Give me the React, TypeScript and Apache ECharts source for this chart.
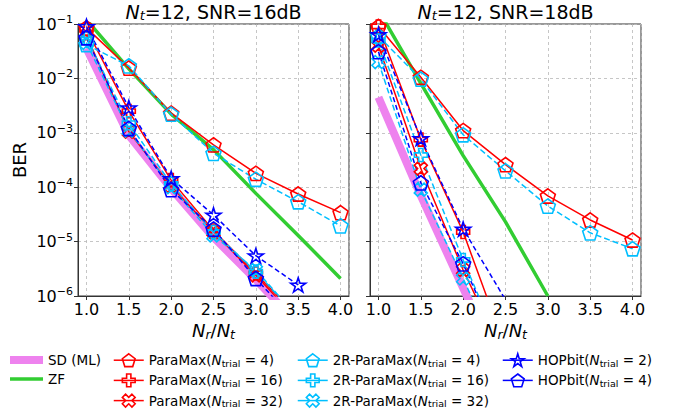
import { useEffect, useRef } from 'react';
import * as echarts from 'echarts';

const xValues = [1.0, 1.5, 2.0, 2.5, 3.0, 3.5, 4.0];
const panelSNR = ['16dB', '18dB'];

// ---- Panel 1: Nt=12, SNR=16dB ----
const sdML16 = [0.036, 9e-4, 9.5e-5, 1.2e-5, 2.0e-6, 3e-7];
const zf16 = [0.12, 1.5e-2, 2.2e-3, 4.9e-4, 7.7e-5, 1.3e-5, 2.1e-6];
const pm4_16 = [0.085, 1.55e-2, 2.3e-3, 6e-4, 1.8e-4, 7.5e-5, 3.4e-5];
const pm16_16 = [0.08, 2.5e-3, 1.35e-4, 1.6e-5, 2.6e-6, 4e-7];
const pm32_16 = [0.062, 1.05e-3, 1.05e-4, 1.5e-5, 2.4e-6, 3.5e-7];
const r4_16 = [0.042, 1.7e-2, 2.2e-3, 4.2e-4, 1.4e-4, 5.4e-5, 1.95e-5];
const r16_16 = [0.055, 1.5e-3, 1.15e-4, 1.5e-5, 2.8e-6, 4e-7];
const r32_16 = [0.045, 1.1e-3, 1.0e-4, 1.3e-5, 3e-6, 4e-7];
const hop2_16 = [0.09, 2.9e-3, 1.45e-4, 3.1e-5, 5.5e-6, 1.6e-6];
const hop4_16 = [0.056, 1.2e-3, 9e-5, 1.7e-5, 2.1e-6, 3e-7];

// ---- Panel 2: Nt=12, SNR=18dB ----
const sdML18 = [4.5e-3, 7e-5, 1.4e-6, 3e-8];
const zf18 = [0.18, 8.1e-3, 3.8e-4, 2.3e-5, 1e-6];
const pm4_18 = [0.09, 1.05e-2, 1.1e-3, 2.6e-4, 6.9e-5, 2.5e-5, 1.07e-5];
const pm16_18 = [0.09, 7.5e-4, 1.5e-5, 1.1e-7];
const pm32_18 = [0.04, 2.2e-4, 3e-6, 7e-8];
const r4_18 = [0.06, 9.7e-3, 9.2e-4, 2.0e-4, 4.5e-5, 1.45e-5, 7.4e-6];
const r16_18 = [0.05, 3.9e-4, 4.6e-6, 7e-8];
const r32_18 = [0.02, 9e-5, 2.1e-6, 4e-8];
const hop2_18 = [0.064, 7.9e-4, 1.7e-5, 8.5e-7];
const hop4_18 = [0.031, 1.2e-4, 3.9e-6, 7e-8];

const FONT = 'DejaVu Sans';

const SYM_PENT = 'path://M0,-10L9.51,-3.09L5.88,8.09L-5.88,8.09L-9.51,-3.09Z';
const SYM_PLUS = 'path://M-1,-3L1,-3L1,-1L3,-1L3,1L1,1L1,3L-1,3L-1,1L-3,1L-3,-1L-1,-1Z';
const SYM_X = 'path://M2,-4L4,-2L2,0L4,2L2,4L0,2L-2,4L-4,2L-2,0L-4,-2L-2,-4L0,-2Z';
const SYM_STAR = 'path://M0,-10L2.245,-3.09L9.51,-3.09L3.633,1.18L5.88,8.09L0,3.82L-5.88,8.09L-3.633,1.18L-9.51,-3.09L-2.245,-3.09Z';

const VIOLET = '#ee82ee';
const GREEN = '#32cd32';
const RED = '#ff0000';
const CYAN = '#00bfff';
const BLUE = '#0000ff';

const defs = [
  { name: 'SD (ML)', color: VIOLET, width: 8, dash: 'solid' as any, symbol: 'none', size: 0, d: [sdML16, sdML18] },
  { name: 'ZF', color: GREEN, width: 3.5, dash: 'solid' as any, symbol: 'none', size: 0, d: [zf16, zf18] },
  { name: 'ParaMax(N_trial = 4)', color: RED, width: 1.5, dash: 'solid' as any, symbol: SYM_PENT, size: 15, d: [pm4_16, pm4_18] },
  { name: 'ParaMax(N_trial = 16)', color: RED, width: 1.5, dash: 'solid' as any, symbol: SYM_PLUS, size: 13, d: [pm16_16, pm16_18] },
  { name: 'ParaMax(N_trial = 32)', color: RED, width: 1.5, dash: 'solid' as any, symbol: SYM_X, size: 13, d: [pm32_16, pm32_18] },
  { name: '2R-ParaMax(N_trial = 4)', color: CYAN, width: 1.5, dash: [6, 3] as any, symbol: SYM_PENT, size: 15, d: [r4_16, r4_18] },
  { name: '2R-ParaMax(N_trial = 16)', color: CYAN, width: 1.5, dash: [6, 3] as any, symbol: SYM_PLUS, size: 13, d: [r16_16, r16_18] },
  { name: '2R-ParaMax(N_trial = 32)', color: CYAN, width: 1.5, dash: [6, 3] as any, symbol: SYM_X, size: 13, d: [r32_16, r32_18] },
  { name: 'HOPbit(N_trial = 2)', color: BLUE, width: 1.5, dash: [5, 3] as any, symbol: SYM_STAR, size: 15, d: [hop2_16, hop2_18] },
  { name: 'HOPbit(N_trial = 4)', color: BLUE, width: 1.5, dash: [5, 3] as any, symbol: SYM_PENT, size: 15, d: [hop4_16, hop4_18] },
];

const legendCols = [
  { left: 6, names: ['SD (ML)', 'ZF'], w: 33 },
  { left: 113, names: defs.slice(2, 5).map((d) => d.name), w: 30 },
  { left: 297, names: defs.slice(5, 8).map((d) => d.name), w: 30 },
  { left: 502, names: defs.slice(8, 10).map((d) => d.name), w: 30 },
];

const legendRich = {
  n: { fontSize: 13.5, fontFamily: FONT, color: '#000' },
  i: { fontSize: 13.5, fontFamily: FONT, fontStyle: 'italic', color: '#000' },
  s: { fontSize: 9.5, fontFamily: FONT, color: '#000', padding: [6, 0, 0, 0] },
};

function legendFmt(name: string) {
  if (name.indexOf('N_trial') < 0) return '{n|' + name + '}';
  const [a, b] = name.split('N_trial');
  return '{n|' + a + '}{i|N}{s|trial}{n|' + b + '}';
}

const tickRich = {
  b: { fontSize: 16, fontFamily: FONT, color: '#000' },
  e: { fontSize: 11, fontFamily: FONT, color: '#000', padding: [0, 0, 9, 0] },
};

const gridLefts = [78, 370];
const GRID_W = 271;
const GRID_TOP = 24;
const GRID_H = 272;

export default function App() {
  const ref = useRef<HTMLDivElement>(null);
  useEffect(() => {
    if (!ref.current) return;
    const chart = echarts.init(ref.current, undefined, { renderer: 'svg' });

    const series: any[] = [];
    defs.forEach((d) => {
      d.d.forEach((arr, p) => {
        series.push({
          type: 'line',
          name: d.name,
          xAxisIndex: p,
          yAxisIndex: p,
          data: arr.map((v, i) => [xValues[i], v]),
          symbol: d.symbol,
          symbolSize: d.size,
          symbolKeepAspect: true,
          showSymbol: d.symbol !== 'none',
          clip: true,
          silent: true,
          lineStyle: { color: d.color, width: d.width, type: d.dash },
          itemStyle: { color: 'rgba(255,255,255,0)', borderColor: d.color, borderWidth: 1.6 },
          emphasis: { disabled: true },
        });
      });
    });

    const axisLineStyle = { color: '#333', width: 1 };
    const splitLine = { show: true, lineStyle: { color: '#b8b8b8', type: [3, 3] as any, width: 0.8 } };

    const xAxis = [0, 1].map((p) => ({
      type: 'value',
      gridIndex: p,
      min: 0.9,
      max: 4.1,
      splitNumber: 6,
      name: '{i|N}{s|r}{n|/}{i|N}{s|t}',
      nameLocation: 'middle',
      nameGap: 24,
      nameTextStyle: {
        rich: {
          i: { fontSize: 18, fontFamily: FONT, fontStyle: 'italic', color: '#000' },
          n: { fontSize: 18, fontFamily: FONT, color: '#000' },
          s: { fontSize: 12.5, fontFamily: FONT, fontStyle: 'italic', color: '#000', padding: [7, 0, 0, 0] },
        },
      },
      axisLine: { show: true, onZero: false, lineStyle: axisLineStyle },
      axisTick: { show: true, length: 4, lineStyle: axisLineStyle },
      axisLabel: {
        showMinLabel: false,
        showMaxLabel: false,
        margin: 5,
        fontSize: 16,
        fontFamily: FONT,
        color: '#000',
        formatter: (v: number) => v.toFixed(1),
      },
      splitLine,
    }));

    const yAxis = [0, 1].map((p) => ({
      type: 'log',
      logBase: 10,
      gridIndex: p,
      min: 1e-6,
      max: 1e-1,
      splitNumber: 5,
      name: p === 0 ? 'BER' : '',
      nameLocation: 'middle',
      nameGap: 50,
      nameRotate: 90,
      nameTextStyle: { fontSize: 18, fontFamily: FONT, color: '#000' },
      axisLine: { show: true, lineStyle: axisLineStyle },
      axisTick: { show: true, length: 4, lineStyle: axisLineStyle },
      axisLabel: {
        show: p === 0,
        margin: 5,
        formatter: (v: number) => '{b|10}{e|\u2212' + Math.abs(Math.round(Math.log10(v))) + '}',
        rich: tickRich,
      },
      splitLine,
    }));

    const legend = legendCols.map((c) => ({
      show: true,
      orient: 'vertical',
      left: c.left,
      top: 353,
      padding: 0,
      itemGap: 5,
      itemWidth: c.w,
      itemHeight: 16,
      selectedMode: false,
      formatter: legendFmt,
      textStyle: { rich: legendRich, fontSize: 13.5, fontFamily: FONT },
      lineStyle: { width: 'inherit' },
      data: c.names.map((nm) => {
        const d = defs.find((x) => x.name === nm)!;
        const noSym = d.symbol === 'none';
        return {
          name: nm,
          itemStyle: noSym
            ? { color: 'rgba(255,255,255,0)', borderColor: 'rgba(255,255,255,0)', borderWidth: 0, opacity: 0 }
            : { color: 'rgba(255,255,255,0)', borderColor: d.color, borderWidth: 1.6 },
          lineStyle: { color: d.color, width: d.width > 4 ? 8 : d.width > 2 ? 3.5 : 1.5, type: 'solid' },
        };
      }),
    }));

    const titleRich = {
      i: { fontSize: 19, fontFamily: FONT, fontStyle: 'italic', fill: '#000' },
      s: { fontSize: 13, fontFamily: FONT, fontStyle: 'italic', fill: '#000', padding: [7, 0, 0, 0] },
      n: { fontSize: 19, fontFamily: FONT, fill: '#000' },
    };

    const graphic = panelSNR.map((snr, p) => ({
      type: 'text',
      x: gridLefts[p] + GRID_W / 2,
      y: 12,
      silent: true,
      style: {
        text: '{i|N}{s|t}{n|=12, SNR=' + snr + '}',
        rich: titleRich,
        align: 'center',
        verticalAlign: 'middle',
      },
    }));

    chart.setOption({
      animation: false,
      backgroundColor: '#ffffff',
      grid: gridLefts.map((l) => ({
        left: l,
        top: GRID_TOP,
        width: GRID_W,
        height: GRID_H,
        show: true,
        borderColor: '#333',
        borderWidth: 1,
        containLabel: false,
      })),
      xAxis,
      yAxis,
      legend,
      graphic,
      series,
    } as any);

    return () => chart.dispose();
  }, []);

  return (
    <div
      ref={ref}
      style={{ position: 'fixed', left: 0, top: 0, width: 678, height: 413 }}
    />
  );
}
